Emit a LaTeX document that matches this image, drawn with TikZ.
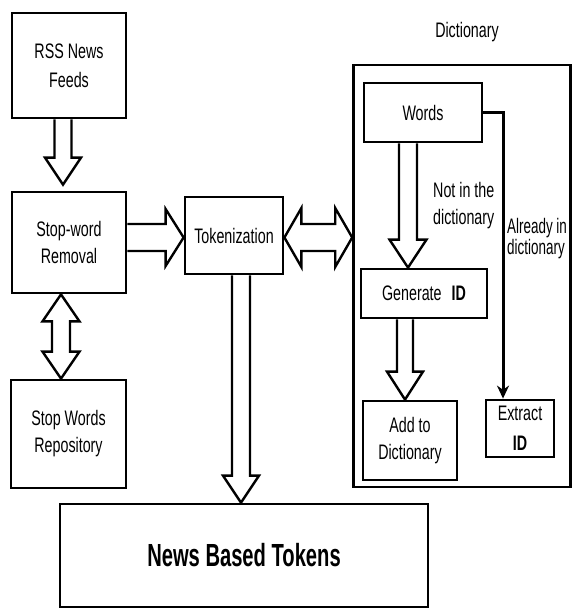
\documentclass[tikz,border=0pt]{standalone}
\usepackage{fontspec}
\setmainfont{Liberation Sans}
\usetikzlibrary{calc,arrows.meta,backgrounds}
\newcommand\sq[1]{\scalebox{0.68}[1]{#1}}
% vertical down block arrow: from, to, cx, half shaft, half head, head length
\newcommand\vblk[6]{%
 \draw[blk] ({#3-#4},0 |- #1) -- ($({#3-#4},0 |- #2)+(0,-#6)$) -- ($({#3-#5},0 |- #2)+(0,-#6)$) -- ({#3},0 |- #2) -- ($({#3+#5},0 |- #2)+(0,-#6)$) -- ($({#3+#4},0 |- #2)+(0,-#6)$) -- ({#3+#4},0 |- #1);}
% horizontal right block arrow: from, to, cy, half shaft, half head, head length
\newcommand\hblk[6]{%
 \draw[blk] (#1 |- 0,{#3-#4}) -- ($(#2 |- 0,{#3-#4})+(-#6,0)$) -- ($(#2 |- 0,{#3-#5})+(-#6,0)$) -- (#2 |- 0,{#3}) -- ($(#2 |- 0,{#3+#5})+(-#6,0)$) -- ($(#2 |- 0,{#3+#4})+(-#6,0)$) -- (#1 |- 0,{#3+#4});}
\begin{document}
\begin{tikzpicture}[x=1pt,y=-1pt,
 box/.style={draw, line width=2.8pt, inner sep=0pt, align=center, font=\fontsize{21}{27}\selectfont},
 blk/.style={draw, fill=white, line width=2.4pt, line join=miter},
 lbl/.style={inner sep=0pt, font=\fontsize{21}{27}\selectfont}]
\useasboundingbox (0,0) rectangle (573,609);
% boxes
\node[box, minimum width=114pt, minimum height=105pt] (rss) at (69,65.5) {\sq{RSS News}\\[2pt]\sq{Feeds}};
\node[box, minimum width=114pt, minimum height=101pt] (sw) at (69,242.5) {\sq{Stop-word}\\\sq{Removal}};
\node[box, minimum width=115pt, minimum height=108pt] (swr) at (68.5,434) {\sq{Stop Words}\\\sq{Repository}};
\node[box, minimum width=98pt, minimum height=77pt] (tok) at (234,235.5) {\sq{Tokenization}};
\node[box, minimum width=368pt, minimum height=103pt, font=\bfseries\fontsize{32}{38}\selectfont] (nbt) at (244,555.5) {\scalebox{0.63}[1]{News Based Tokens}};
\node[box, line width=2.6pt, minimum width=217pt, minimum height=422pt] (dict) at (462,276) {};
\node[lbl] (dlabel) at (467,32) {\sq{Dictionary}};
\node[box, minimum width=118pt, minimum height=59pt] (words) at (423,112.5) {\sq{Words}};
\node[box, minimum width=126pt, minimum height=49pt] (gen) at (424,293.5) {\sq{Generate}\hspace{10pt}\sq{\bfseries ID}};
\node[box, minimum width=94pt, minimum height=79pt] (add) at (410,440.5) {\sq{Add to}\\\sq{Dictionary}};
\node[box, minimum width=68pt, minimum height=57pt] (ext) at (520,428.5) {\sq{Extract}\\[3pt]\sq{\bfseries ID}};
\node[lbl, anchor=west, align=left] (nin) at (433,206) {\sq{Not in the}\\\sq{dictionary}};
\node[lbl, anchor=west, align=left, font=\fontsize{21}{21}\selectfont] (ain) at (507,238.5) {\scalebox{0.64}[1]{Already in}\\\scalebox{0.64}[1]{dictionary}};
\coordinate (swt) at ($(sw.north)+(0,-6)$);
% connectors
\begin{scope}[on background layer]
\vblk{rss.south}{swt}{63}{8.5}{18}{27}
\hblk{sw.east}{tok.west}{237.5}{13.5}{28.5}{18}
\vblk{tok.south}{nbt.north}{241}{9}{18}{27}
\vblk{words.south}{gen.north}{408}{9}{18.5}{28}
\vblk{gen.south}{add.north}{405}{8}{18}{28}
% double horizontal arrow tok <-> dict
\draw[blk] (tok.east |- 0,237.5) -- ($(tok.east |- 0,208)+(17,0)$) -- ($(tok.east |- 0,224)+(17,0)$) -- ($(dict.west |- 0,224)+(-17,0)$) -- ($(dict.west |- 0,208)+(-17,0)$) -- (dict.west |- 0,237.5) -- ($(dict.west |- 0,267)+(-17,0)$) -- ($(dict.west |- 0,251)+(-17,0)$) -- ($(tok.east |- 0,251)+(17,0)$) -- ($(tok.east |- 0,267)+(17,0)$) -- cycle;
% double vertical arrow sw <-> swr
\draw[blk] (61,0 |- sw.south) -- ($(42.5,0 |- sw.south)+(0,27)$) -- ($(52,0 |- sw.south)+(0,27)$) -- ($(52,0 |- swr.north)+(0,-27)$) -- ($(42.5,0 |- swr.north)+(0,-27)$) -- (61,0 |- swr.north) -- ($(79.5,0 |- swr.north)+(0,-27)$) -- ($(70,0 |- swr.north)+(0,-27)$) -- ($(70,0 |- sw.south)+(0,27)$) -- ($(79.5,0 |- sw.south)+(0,27)$) -- cycle;
\end{scope}
\draw[line width=3pt, -{Stealth[length=13pt,width=12pt]}] (words.east) -| (503,0 |- ext.north);
\end{tikzpicture}
\end{document}
